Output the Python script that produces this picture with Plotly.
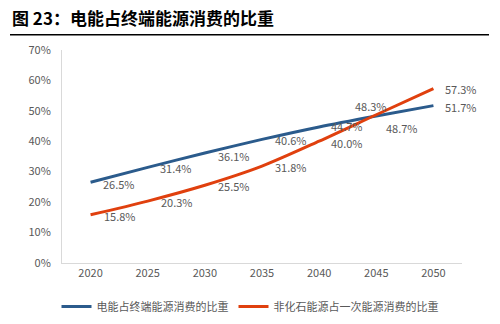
import plotly.graph_objects as go

years = ["2020", "2025", "2030", "2035", "2040", "2045", "2050"]
elec_share = [26.5, 31.4, 36.1, 40.6, 44.7, 48.3, 51.7]
nonfossil_share = [15.8, 20.3, 25.5, 31.8, 40.0, 48.7, 57.3]
y_ticks = [0, 10, 20, 30, 40, 50, 60, 70]
y_tick_labels = [f"{v}%" for v in y_ticks]

name_elec = "电能占终端能源消费的比重"
name_nf = "非化石能源占一次能源消费的比重"
title = "图 23：电能占终端能源消费的比重"

BLUE = "#2B5B8C"
RED = "#E0400E"
GRAY = "#595959"
FONT = "Noto Sans CJK SC"

# label offsets (px): (xshift, yshift)
elec_off = [(10, -1.5), (10, -1), (11, -2.7), (11, -0.3), (10, 0.8), (-23, 9.6), (10, -1.2)]
nf_off = [(11, -1), (11, -1), (11, -0.4), (11, -0.4), (10, -1.6), (8, -13.6), (10, -0.8)]

fig = go.Figure()
fig.add_trace(go.Scatter(x=years, y=elec_share, mode="lines", name=name_elec,
                         line=dict(color=BLUE, width=3, shape="spline", smoothing=0.8)))
fig.add_trace(go.Scatter(x=years, y=nonfossil_share, mode="lines", name=name_nf,
                         line=dict(color=RED, width=3, shape="spline", smoothing=0.8)))

annotations = []
for vals, offs in ((elec_share, elec_off), (nonfossil_share, nf_off)):
    for i, (yv, (dx, dy)) in enumerate(zip(vals, offs)):
        annotations.append(dict(x=i, y=yv, xref="x", yref="y", text=f"{yv:.1f}%",
                                showarrow=False, xanchor="left", yanchor="middle",
                                xshift=dx, yshift=dy,
                                font=dict(family=FONT, size=11, color=GRAY)))

annotations.append(dict(x=(10 - 62) / 400, y=1 + (50 - 17) / 216, xref="paper", yref="paper",
                        text=f"<b>{title}</b>",
                        showarrow=False, xanchor="left", yanchor="middle",
                        font=dict(family=FONT, size=17, color="#000000")))

fig.update_layout(
    width=500, height=324,
    margin=dict(l=62, r=38, t=50, b=58),
    paper_bgcolor="white", plot_bgcolor="white",
    font=dict(family=FONT, size=11, color=GRAY),
    showlegend=True,
    legend=dict(orientation="h", x=0.5, xanchor="center", xref="container",
                y=17.5 / 324, yref="container", yanchor="middle",
                font=dict(family=FONT, size=11, color=GRAY),
                itemwidth=30, tracegroupgap=0),
    xaxis=dict(type="category", range=[-0.5, 6.5], showgrid=False, showline=True,
               linecolor="#D9D9D9", linewidth=1, ticks="", tickfont=dict(size=11, color=GRAY)),
    yaxis=dict(range=[0, 70], tickvals=y_ticks, ticktext=y_tick_labels, showgrid=False,
               showline=True, linecolor="#D9D9D9", linewidth=1, ticks="",
               ticklabelstandoff=8, tickfont=dict(size=11, color=GRAY), zeroline=False),
    annotations=annotations,
)

fig.add_shape(type="line", xref="paper", yref="paper",
              x0=(10 - 62) / 400, x1=(489 - 62) / 400,
              y0=1 + (50 - 34.5) / 216, y1=1 + (50 - 34.5) / 216,
              line=dict(color="#000000", width=1.5))

fig.write_html("out.html")
